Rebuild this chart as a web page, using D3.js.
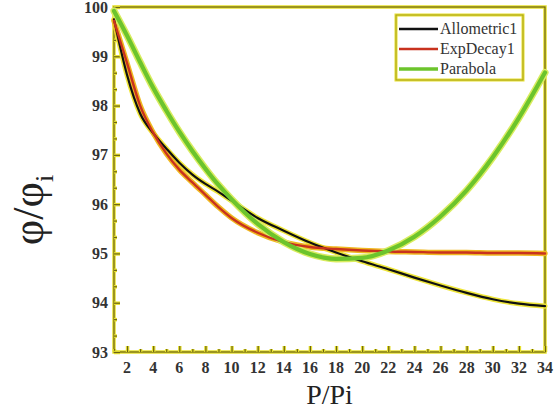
<!DOCTYPE html>
<html>
<head>
<meta charset="utf-8">
<script src="https://cdn.jsdelivr.net/npm/d3@7"></script>
<style>
  body { margin: 0; background: #fff; }
  svg { display: block; }
</style>
</head>
<body>
<div id="chart"></div>
<script>
const xs = [1, 2, 3, 4, 5, 6, 7, 8, 9, 10, 12, 14, 16, 18, 20, 22, 24, 26, 28, 30, 32, 34];

const allometric = [99.75, 98.62, 97.84, 97.44, 97.13, 96.84, 96.6, 96.41, 96.25, 96.07, 95.72, 95.46, 95.22, 95.02, 94.84, 94.68, 94.51, 94.35, 94.2, 94.07, 93.98, 93.93];
const expDecay = [99.72, 98.86, 98.0, 97.45, 97.03, 96.7, 96.44, 96.19, 95.94, 95.72, 95.42, 95.23, 95.13, 95.09, 95.06, 95.04, 95.03, 95.02, 95.02, 95.01, 95.01, 95.0];
const parabola = [99.92, 99.42, 98.88, 98.36, 97.9, 97.47, 97.08, 96.72, 96.39, 96.1, 95.6, 95.23, 94.99, 94.89, 94.91, 95.06, 95.34, 95.75, 96.28, 96.95, 97.75, 98.67];

const seriesNames = ["Allometric1", "ExpDecay1", "Parabola"];
const seriesColors = ["#111111", "#c8321e", "#6cc42c"];
const haloColors = ["#efe63a", "#f0b820", "#d9ec60"];

const xTicks = d3.range(2, 35, 2);
const yTicks = d3.range(93, 101, 1);

const serif = "Liberation Serif";

const width = 556, height = 418;
const margin = { top: 7, right: 11, bottom: 66, left: 114 };

const svg = d3.select("#chart").append("svg")
  .attr("width", width)
  .attr("height", height)
  .attr("font-family", serif);

const x = d3.scaleLinear().domain([1, 34]).range([margin.left, width - margin.right]);
const y = d3.scaleLinear().domain([93, 100]).range([height - margin.bottom, margin.top]);

const axisYellow = "#e6df2e";
const axisDark = "#6b6414";

// frame: yellow underlay then dark line
const frame = svg.append("g");
frame.append("rect")
  .attr("x", x(1)).attr("y", y(100))
  .attr("width", x(34) - x(1)).attr("height", y(93) - y(100))
  .attr("fill", "none").attr("stroke", axisYellow).attr("stroke-width", 3.5);
frame.append("rect")
  .attr("x", x(1)).attr("y", y(100))
  .attr("width", x(34) - x(1)).attr("height", y(93) - y(100))
  .attr("fill", "none").attr("stroke", axisDark).attr("stroke-width", 1.2);

// x axis, ticks pointing inward
const xMinor = d3.range(1, 35, 1).filter(d => d % 2 === 1);
const xAxis = d3.axisTop(x).tickValues(xTicks).tickSize(6).tickFormat("");
const xAxisMinor = d3.axisTop(x).tickValues(xMinor).tickSize(3).tickFormat("");
[xAxis, xAxisMinor].forEach(ax => {
  const g = svg.append("g").attr("transform", `translate(0,${y(93)})`).call(ax);
  g.select(".domain").remove();
  g.selectAll("line").attr("stroke", axisYellow).attr("stroke-width", 3.5)
    .clone(true).attr("stroke", axisDark).attr("stroke-width", 1.2);
});
svg.append("g").selectAll("text")
  .data(xTicks).join("text")
  .attr("x", d => x(d)).attr("y", y(93) + 21)
  .attr("text-anchor", "middle").attr("font-family", serif)
  .attr("font-size", 16).attr("font-weight", "bold").attr("fill", "#333")
  .text(d => d);

// y axis
const yMinor = d3.range(0, 21).map(i => 93 + i / 3).filter((d, i) => i % 3 !== 0);
const yAxis = d3.axisRight(y).tickValues(yTicks).tickSize(6).tickFormat("");
const yAxisMinor = d3.axisRight(y).tickValues(yMinor).tickSize(3).tickFormat("");
[yAxis, yAxisMinor].forEach(ax => {
  const g = svg.append("g").attr("transform", `translate(${x(1)},0)`).call(ax);
  g.select(".domain").remove();
  g.selectAll("line").attr("stroke", axisYellow).attr("stroke-width", 3.5)
    .clone(true).attr("stroke", axisDark).attr("stroke-width", 1.2);
});
svg.append("g").selectAll("text")
  .data(yTicks).join("text")
  .attr("x", x(1) - 6).attr("y", d => y(d) + 5.5)
  .attr("text-anchor", "end").attr("font-family", serif)
  .attr("font-size", 16).attr("font-weight", "bold").attr("fill", "#333")
  .text(d => d);

// curves: yellow halo under a coloured core
const line = d3.line()
  .x((d, i) => x(xs[i]))
  .y(d => y(d))
  .curve(d3.curveMonotoneX);

const allSeries = [allometric, expDecay, parabola];
const widths = [2.2, 2.4, 4.2];
allSeries.forEach((vals, k) => {
  svg.append("path").datum(vals)
    .attr("fill", "none").attr("stroke", haloColors[k])
    .attr("stroke-width", widths[k] + 3).attr("stroke-linecap", "round")
    .attr("d", line);
});
allSeries.forEach((vals, k) => {
  svg.append("path").datum(vals)
    .attr("fill", "none").attr("stroke", seriesColors[k])
    .attr("stroke-width", widths[k]).attr("stroke-linecap", "round")
    .attr("d", line);
});

// legend
const legend = svg.append("g").attr("transform", "translate(396,15)");
legend.append("rect").attr("width", 127).attr("height", 65)
  .attr("fill", "#fff").attr("stroke", axisYellow).attr("stroke-width", 3);
legend.append("rect").attr("width", 127).attr("height", 65)
  .attr("fill", "none").attr("stroke", "#9a9220").attr("stroke-width", 0.8);
seriesNames.forEach((name, k) => {
  const ly = 14 + k * 20;
  legend.append("line").attr("x1", 3).attr("x2", 42).attr("y1", ly).attr("y2", ly)
    .attr("stroke", seriesColors[k]).attr("stroke-width", k === 2 ? 3.5 : 2.5);
  legend.append("text").attr("x", 44).attr("y", ly + 5).attr("font-family", serif)
    .attr("font-size", 16).attr("fill", "#333").text(name);
});

// axis titles
svg.append("text")
  .attr("x", x(17.5)).attr("y", 404).attr("font-family", serif)
  .attr("text-anchor", "middle").attr("font-size", 28).attr("fill", "#222")
  .text("P/Pi");

const yl = svg.append("text")
  .attr("transform", "translate(43,210) rotate(-90)").attr("font-family", serif)
  .attr("text-anchor", "middle").attr("font-size", 44).attr("fill", "#222");
yl.append("tspan").text("φ/φ");
yl.append("tspan").attr("font-size", 26).attr("dy", 10).text("i");
</script>
</body>
</html>
